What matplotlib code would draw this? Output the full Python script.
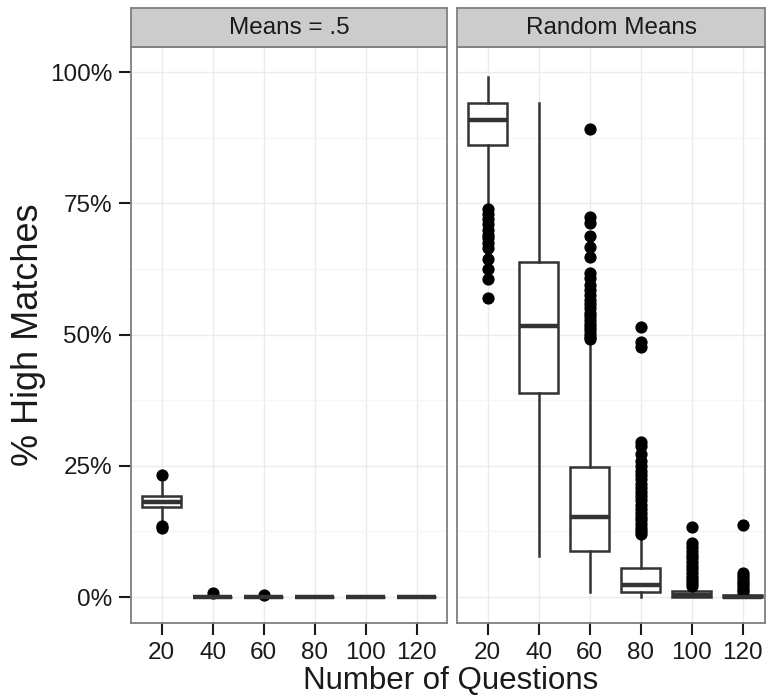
import matplotlib
matplotlib.use("Agg")
import matplotlib.pyplot as plt
from matplotlib.ticker import FixedLocator, FuncFormatter

plt.rcParams['font.family'] = ['Liberation Sans', 'DejaVu Sans']

# Categorías (número de preguntas)
questions = ["20", "40", "60", "80", "100", "120"]

# Panel "Means = .5" (valores en %)
half_q1 = [17.1, 0.0, 0.0, 0.0, 0.0, 0.0]
half_med = [18.2, 0.0, 0.0, 0.0, 0.0, 0.0]
half_q3 = [19.2, 0.0, 0.0, 0.0, 0.0, 0.0]
half_lo = [14.3, 0.0, 0.0, 0.0, 0.0, 0.0]
half_hi = [22.0, 0.0, 0.0, 0.0, 0.0, 0.0]
half_out = [[23.2, 13.5, 13.1], [0.7], [0.3], [], [], []]

# Panel "Random Means" (valores en %)
rand_q1 = [86.1, 38.8, 8.8, 1.0, 0.0, 0.0]
rand_med = [90.9, 51.6, 15.3, 2.3, 0.3, 0.0]
rand_q3 = [94.2, 63.9, 24.8, 5.6, 1.2, 0.3]
rand_lo = [74.5, 7.8, 1.0, 0.0, 0.0, 0.0]
rand_hi = [99.1, 94.2, 48.5, 11.6, 1.9, 0.8]
rand_out = [
    [74.0, 73.0, 72.0, 71.0, 70.0, 69.0, 68.5, 67.5, 66.5, 64.5, 62.5, 60.5, 57.0],
    [],
    [89.1, 72.4, 71.3, 68.8, 66.7, 64.8, 61.7, 60.8, 59.5, 58.5, 57.5, 56.5, 55.8,
     55.0, 54.2, 53.5, 52.8, 52.0, 51.4, 50.8, 50.2, 49.6, 49.1],
    [51.5, 48.6, 47.6, 29.6, 28.8, 27.2, 26.0, 25.0, 24.0, 23.2, 22.4, 21.6, 20.8,
     20.0, 19.2, 18.4, 17.6, 16.8, 16.0, 15.3, 14.6, 13.9, 13.2, 12.6, 12.1],
    [13.4, 10.2, 9.5, 8.8, 8.1, 7.4, 6.7, 6.0, 5.3, 4.6, 3.9, 3.2, 2.6, 2.1],
    [13.7, 4.5, 4.0, 3.4, 2.9, 2.4, 1.9, 1.4, 1.0],
]

panels = [
    ("Means = .5", half_q1, half_med, half_q3, half_lo, half_hi, half_out),
    ("Random Means", rand_q1, rand_med, rand_q3, rand_lo, rand_hi, rand_out),
]

W, H = 766, 697
fig = plt.figure(figsize=(W / 100, H / 100), dpi=100)

# Posiciones en píxeles: (izquierda, derecha)
panel_px = [(131, 447), (457, 765)]
top_px, bottom_px, strip_top_px = 47, 623, 8
border = '#7F7F7F'
dark = '#333333'
lw = 1.8

for i, (titulo, q1, med, q3, lo, hi, out) in enumerate(panels):
    x0, x1 = panel_px[i]
    ax = fig.add_axes([x0 / W, 1 - bottom_px / H, (x1 - x0) / W, (bottom_px - top_px) / H])

    stats = []
    for j in range(len(questions)):
        stats.append({"q1": q1[j], "med": med[j], "q3": q3[j],
                      "whislo": lo[j], "whishi": hi[j], "fliers": out[j]})

    ax.bxp(stats, positions=range(len(questions)), widths=0.75, showcaps=False,
           patch_artist=True,
           boxprops=dict(facecolor='white', edgecolor=dark, linewidth=lw),
           medianprops=dict(color=dark, linewidth=3.2),
           whiskerprops=dict(color=dark, linewidth=lw),
           flierprops=dict(marker='o', markerfacecolor='black', markeredgecolor='black',
                           markersize=7.8), zorder=3)

    ax.set_xlim(-0.6, -0.6 + (x1 - x0) / 51.0)
    ax.set_ylim(-4.95, 104.8)
    ax.set_xticks(range(len(questions)))
    ax.set_xticklabels(questions)
    ax.yaxis.set_major_locator(FixedLocator([0, 25, 50, 75, 100]))
    ax.yaxis.set_minor_locator(FixedLocator([12.5, 37.5, 62.5, 87.5]))
    ax.yaxis.set_major_formatter(FuncFormatter(lambda v, p: "%d%%" % v))

    ax.grid(True, which='major', color='#EBEBEB', linewidth=1.0, zorder=0)
    ax.grid(True, which='minor', axis='y', color='#F5F5F5', linewidth=1.0, zorder=0)
    ax.set_axisbelow(True)

    for s in ax.spines.values():
        s.set_color(border)
        s.set_linewidth(1.3)

    ax.tick_params(axis='both', which='major', length=8.5, width=1.5, color='#1a1a1a',
                   labelsize=17.5, labelcolor='#1a1a1a', pad=5)
    ax.tick_params(axis='y', which='minor', length=0)
    if i == 1:
        ax.tick_params(axis='y', which='both', left=False, labelleft=False)

    # Franja del título del panel
    sax = fig.add_axes([x0 / W, 1 - top_px / H, (x1 - x0) / W, (top_px - strip_top_px) / H])
    sax.set_facecolor('#CCCCCC')
    sax.set_xticks([])
    sax.set_yticks([])
    for s in sax.spines.values():
        s.set_color(border)
        s.set_linewidth(1.3)
    sax.text(0.5, 0.48, titulo, ha='center', va='center', fontsize=17.5, color='#1a1a1a',
             transform=sax.transAxes)

fig.text(29 / W, 1 - 335 / H, "% High Matches", rotation=90, ha='center', va='center',
         fontsize=26, color='#1a1a1a')
fig.text(451 / W, 1 - 681 / H, "Number of Questions", ha='center', va='center',
         fontsize=22.5, color='#1a1a1a')

fig.savefig("out.png", dpi=100)
